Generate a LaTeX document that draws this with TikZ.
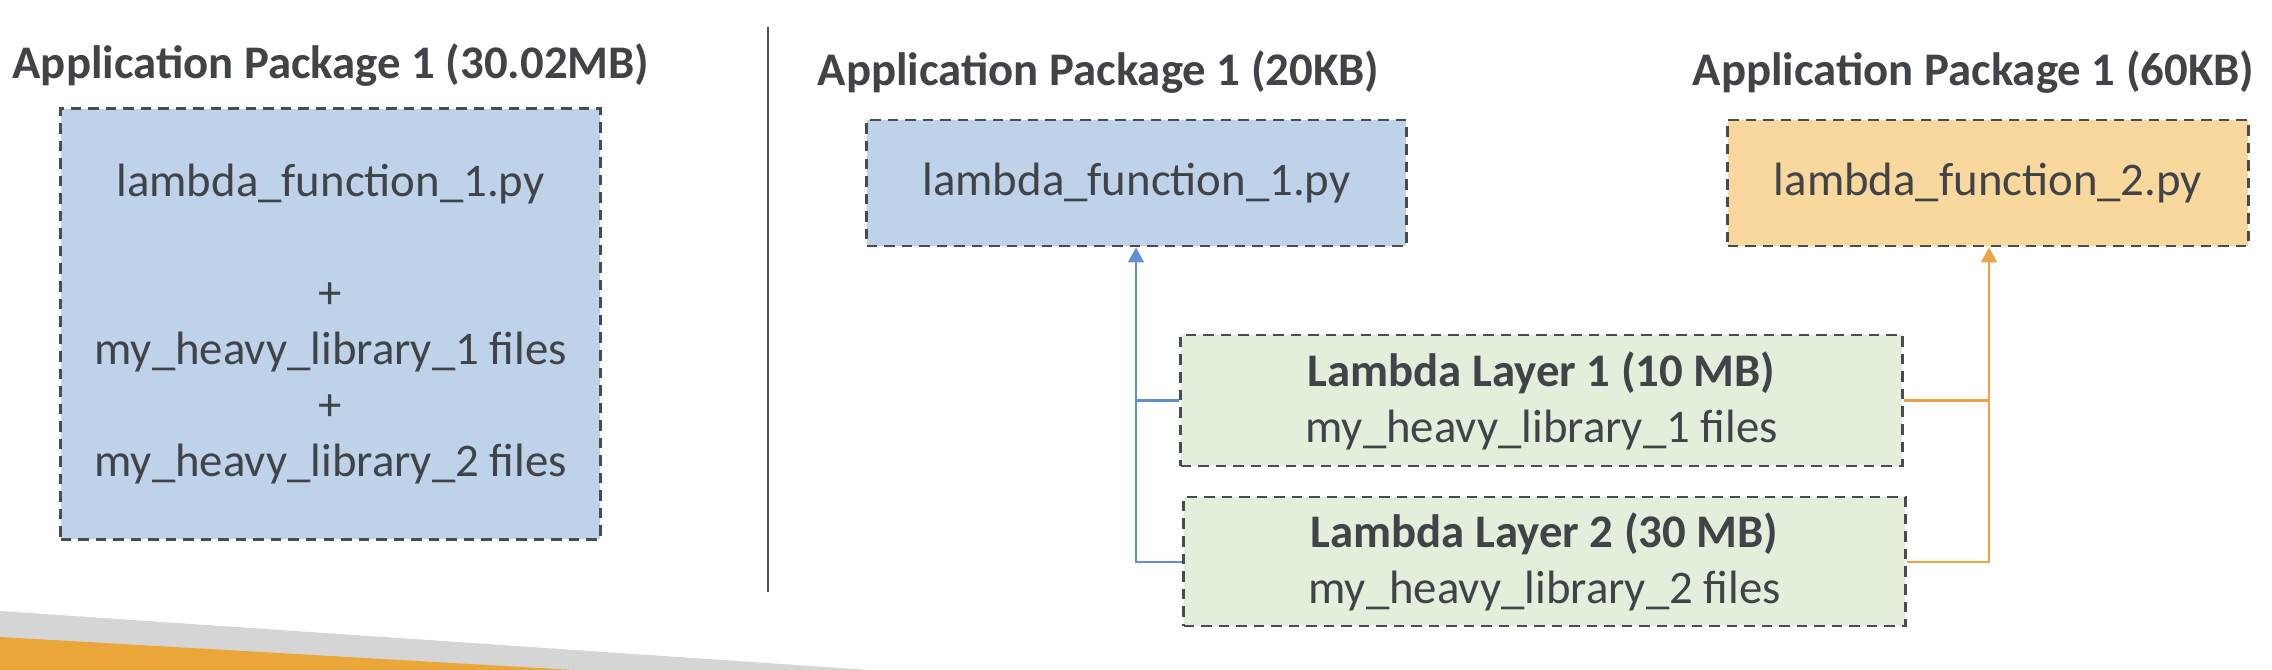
\documentclass[tikz,border=0pt]{standalone}
\usepackage{fontspec}
\setmainfont{Carlito}
\usetikzlibrary{arrows.meta}
\definecolor{txt}{RGB}{64,68,72}
\definecolor{bord}{RGB}{72,76,80}
\definecolor{bluefill}{RGB}{190,210,233}
\definecolor{orgfill}{RGB}{249,216,158}
\definecolor{grnfill}{RGB}{227,239,218}
\definecolor{bluearr}{RGB}{96,145,205}
\definecolor{orgarr}{RGB}{237,163,63}
\definecolor{stripegray}{RGB}{213,213,213}
\definecolor{stripeorg}{RGB}{235,166,58}
\begin{document}
\begin{tikzpicture}[x=0.01cm,y=-0.01cm,
  every node/.style={text=txt,font=\fontsize{13.3}{15.9}\selectfont},
  title/.style={font=\fontsize{13.3}{15.9}\selectfont\bfseries},
  pkgbox/.style={draw=bord,line width=0.028cm,dash pattern=on 0.105cm off 0.07cm,inner sep=0pt,align=center},
  conn/.style={line width=0.02cm},
  tip/.style={-{Triangle[width=0.16cm,length=0.15cm]}}]
\useasboundingbox (0,0) rectangle (2272,670);
% bottom stripes
\fill[stripegray] (0,611) -- (870,670) -- (0,670) -- cycle;
\fill[stripeorg] (0,637) -- (574,670) -- (0,670) -- cycle;
% divider
\draw[bord,line width=0.02cm] (768,27) -- (768,592);
% titles
\node[title] (t1) at (331,65) {Application Package 1 (30.02MB)};
\node[title] (t2) at (1098.5,72) {Application Package 1 (20KB)};
\node[title] (t3) at (1973.5,72) {Application Package 1 (60KB)};
% boxes
\node[pkgbox,fill=bluefill,minimum width=5.39cm,minimum height=4.30cm] (big) at (330.5,324)
  {lambda\_function\_1.py\\[0pt] \\ +\\ my\_heavy\_library\_1 files\\ +\\ my\_heavy\_library\_2 files};
\node[pkgbox,fill=bluefill,minimum width=5.39cm,minimum height=1.26cm] (fn1) at (1136.5,183) {lambda\_function\_1.py};
\node[pkgbox,fill=orgfill,minimum width=5.20cm,minimum height=1.26cm] (fn2) at (1988,183) {lambda\_function\_2.py};
\node[pkgbox,fill=grnfill,minimum width=7.21cm,minimum height=1.31cm] (l1) at (1541.5,400.5)
  {\textbf{Lambda Layer 1 (10 MB)}\\ my\_heavy\_library\_1 files};
\node[pkgbox,fill=grnfill,minimum width=7.21cm,minimum height=1.29cm] (l2) at (1544.5,561.5)
  {\textbf{Lambda Layer 2 (30 MB)}\\ my\_heavy\_library\_2 files};
% connectors
\coordinate (bx) at (1136,0);
\coordinate (ox) at (1989,0);
\draw[conn,bluearr] (l1.west) -- (l1.west -| bx);
\draw[conn,bluearr,tip] (l2.west) -| (bx |- fn1.south);
\draw[conn,orgarr] (l1.east) -- (l1.east -| ox);
\draw[conn,orgarr,tip] (l2.east) -| (ox |- fn2.south);
\end{tikzpicture}
\end{document}
